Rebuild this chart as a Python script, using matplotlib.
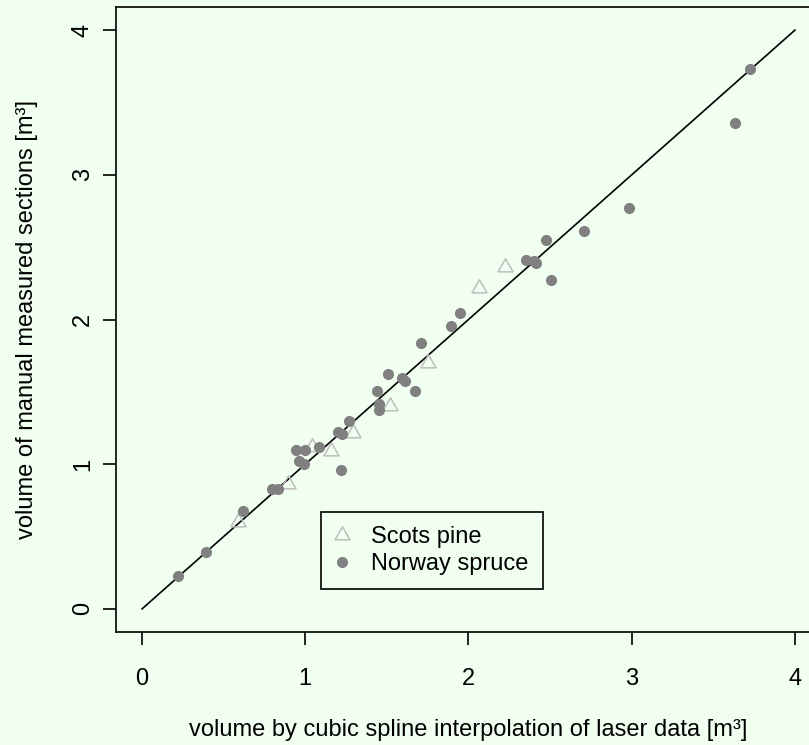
import matplotlib
matplotlib.use('Agg')
import matplotlib.pyplot as plt
from matplotlib.path import Path

# Stem volumes: laser cubic spline estimate (x) vs manual section measurement (y), m^3
pine_laser = [0.59, 0.893, 1.04, 1.155, 1.291, 1.522, 1.753, 2.062, 2.221]
pine_manual = [0.60, 0.86, 1.12, 1.09, 1.215, 1.405, 1.70, 2.22, 2.36]

spruce_laser = [0.218, 0.392, 0.621, 0.797, 0.831, 0.964, 0.989, 0.944, 1.001,
                1.081, 1.22, 1.199, 1.224, 1.265, 1.441, 1.451, 1.451, 1.506,
                1.59, 1.608, 1.674, 1.706, 1.895, 1.947, 2.35, 2.399, 2.411,
                2.473, 2.508, 2.708, 2.983, 3.63, 3.728]
spruce_manual = [0.224, 0.393, 0.675, 0.825, 0.830, 1.021, 0.999, 1.098, 1.098,
                 1.121, 0.957, 1.225, 1.212, 1.299, 1.507, 1.415, 1.375, 1.623,
                 1.595, 1.574, 1.507, 1.84, 1.956, 2.048, 2.413, 2.404, 2.393,
                 2.547, 2.27, 2.61, 2.774, 3.359, 3.733]

ticks = [0, 1, 2, 3, 4]
species = ['Scots pine', 'Norway spruce']

bg = '#f0fff0'
plt.rcParams['font.family'] = ['Liberation Sans', 'DejaVu Sans']
plt.rcParams['font.size'] = 17

# open equilateral triangle centred on its centroid
tri = Path([(0, 1.555), (1.347, -0.778), (-1.347, -0.778), (0, 1.555)],
           [Path.MOVETO, Path.LINETO, Path.LINETO, Path.CLOSEPOLY])

fig = plt.figure(figsize=(8.09, 7.45), dpi=100, facecolor=bg)
ax = fig.add_axes([116 / 809, 1 - 632 / 745, 705 / 809, 625 / 745])
ax.set_facecolor(bg)

ax.plot([0, 4], [0, 4], color='black', lw=1.2, zorder=1)
ax.plot(pine_laser, pine_manual, ls='none', marker=tri, ms=12.5,
        mfc='none', mec='#bebebe', mew=1.1, label=species[0], zorder=2)
ax.plot(spruce_laser, spruce_manual, ls='none', marker='o', ms=7,
        mfc='#808080', mec='#808080', label=species[1], zorder=3)

ax.set_xlim(-0.16, 4.16)
ax.set_ylim(-0.16, 4.16)
ax.set_xticks(ticks)
ax.set_yticks(ticks)
for s in ax.spines.values():
    s.set_linewidth(1.2)
ax.tick_params(length=9.5, width=1.2)
ax.tick_params(axis='x', pad=16.5)
ax.tick_params(axis='y', pad=6.5, labelrotation=90)
plt.setp(ax.get_yticklabels(), va='center')

ax.set_xlabel('volume by cubic spline interpolation of laser data [m³]')
ax.set_ylabel('volume of manual measured sections [m³]')
ax.xaxis.set_label_coords(0.5, -0.139)
ax.yaxis.set_label_coords(-0.11, 0.5)

leg = ax.legend(loc='lower left', bbox_to_anchor=(321 / 809, 1 - 589 / 745),
                bbox_transform=fig.transFigure, borderaxespad=0,
                borderpad=0.6, handlelength=0.58, handletextpad=0.94,
                labelspacing=0.2, fancybox=False, facecolor=bg,
                edgecolor='black', framealpha=1)
leg.get_frame().set_linewidth(1.2)

fig.savefig('out.png', dpi=100, facecolor=bg)
